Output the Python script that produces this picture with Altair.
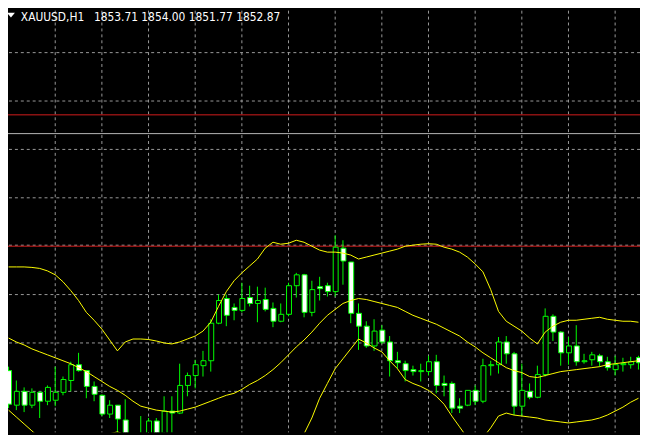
import altair as alt
import pandas as pd

SYMBOL = "XAUUSD,H1"

# hourly candles, oldest first (last one is the bar quoted in the header)
open_ = [1851.60, 1846.00, 1848.24, 1846.00, 1848.08, 1846.64, 1846.80, 1848.08, 1850.00, 1852.56,
         1851.60, 1849.04, 1847.60, 1844.56, 1846.00, 1843.60, 1839.12, 1838.32, 1840.72, 1843.44,
         1841.04, 1845.04, 1844.72, 1849.20, 1850.80, 1852.40, 1853.20, 1859.28, 1863.28, 1861.84,
         1861.36, 1863.44, 1862.48, 1863.12, 1861.68, 1859.60, 1860.72, 1865.36, 1867.12, 1861.04,
         1865.20, 1865.36, 1864.40, 1871.44, 1869.20, 1860.88, 1858.80, 1855.60, 1858.16, 1856.24,
         1853.20, 1852.72, 1851.76, 1851.44, 1851.44, 1853.04, 1849.52, 1849.52, 1845.84, 1846.00,
         1848.40, 1846.64, 1852.40, 1852.56, 1856.24, 1854.32, 1845.84, 1848.24, 1847.28, 1850.96,
         1860.40, 1857.84, 1854.48, 1855.60, 1853.04, 1853.36, 1854.00, 1853.04, 1851.76, 1852.56,
         1852.56, 1853.71]
high = [1852.24, 1850.00, 1848.88, 1848.72, 1848.24, 1849.20, 1852.24, 1850.64, 1853.04, 1854.48,
        1851.60, 1849.84, 1847.76, 1846.80, 1846.00, 1846.96, 1841.36, 1844.24, 1843.92, 1843.92,
        1847.44, 1847.44, 1852.72, 1851.28, 1853.36, 1854.80, 1859.92, 1863.92, 1863.92, 1862.48,
        1865.84, 1865.36, 1865.20, 1865.04, 1862.64, 1862.48, 1865.84, 1867.44, 1867.28, 1866.16,
        1866.80, 1865.84, 1873.52, 1872.72, 1869.20, 1862.48, 1859.60, 1859.92, 1858.96, 1857.20,
        1854.64, 1853.20, 1852.40, 1852.72, 1854.00, 1854.16, 1850.80, 1849.84, 1847.12, 1848.40,
        1849.20, 1853.52, 1853.20, 1857.04, 1857.20, 1854.64, 1852.72, 1849.52, 1852.40, 1861.68,
        1860.72, 1858.00, 1857.04, 1858.96, 1854.32, 1854.64, 1854.32, 1853.84, 1854.00, 1853.68,
        1853.84, 1854.00]
low = [1845.52, 1845.20, 1844.88, 1845.52, 1843.92, 1846.00, 1845.84, 1847.60, 1848.24, 1851.44,
       1847.12, 1846.64, 1844.24, 1843.92, 1840.72, 1839.12, 1838.32, 1837.52, 1839.92, 1839.92,
       1839.92, 1840.72, 1844.56, 1847.44, 1848.72, 1850.64, 1851.44, 1859.12, 1858.80, 1859.76,
       1861.04, 1862.00, 1859.44, 1861.20, 1858.64, 1859.44, 1860.40, 1863.44, 1860.24, 1860.40,
       1862.96, 1863.60, 1863.60, 1865.52, 1859.28, 1854.96, 1855.28, 1854.80, 1855.92, 1850.64,
       1851.92, 1849.84, 1850.80, 1849.84, 1850.80, 1847.92, 1847.44, 1844.72, 1844.72, 1845.84,
       1846.00, 1846.32, 1850.80, 1851.12, 1852.72, 1844.40, 1844.24, 1846.96, 1847.12, 1850.64,
       1856.40, 1852.40, 1852.56, 1852.40, 1852.72, 1852.40, 1852.24, 1851.60, 1850.80, 1851.44,
       1851.92, 1851.77]
close = [1846.16, 1848.24, 1846.00, 1848.08, 1846.64, 1848.88, 1848.08, 1850.16, 1852.56, 1851.60,
         1849.04, 1847.76, 1844.56, 1846.00, 1843.76, 1839.92, 1840.72, 1841.04, 1843.44, 1840.72,
         1845.04, 1844.72, 1849.20, 1850.80, 1852.56, 1853.20, 1859.28, 1862.96, 1860.56, 1861.36,
         1863.28, 1862.48, 1862.96, 1861.52, 1859.60, 1860.72, 1865.36, 1867.12, 1861.04, 1864.72,
         1864.88, 1864.40, 1871.60, 1869.36, 1860.88, 1858.80, 1855.60, 1858.00, 1856.24, 1853.20,
         1852.88, 1851.60, 1851.44, 1851.60, 1853.04, 1849.20, 1849.20, 1845.52, 1845.52, 1848.40,
         1846.64, 1852.40, 1852.56, 1856.24, 1854.32, 1845.84, 1848.40, 1847.28, 1850.96, 1860.40,
         1857.84, 1854.48, 1855.60, 1853.04, 1853.20, 1854.16, 1853.04, 1852.08, 1852.56, 1852.72,
         1853.04, 1852.87]

# Bollinger bands, one value per candle
upper = [1868.40, 1868.40, 1868.40, 1868.32, 1868.16, 1867.76, 1867.12, 1866.00, 1864.56, 1862.96,
         1861.04, 1859.76, 1858.32, 1856.56, 1854.80, 1856.24, 1856.72, 1856.72, 1856.64, 1856.40,
         1856.08, 1855.92, 1856.24, 1856.72, 1857.20, 1858.00, 1859.44, 1862.00, 1864.40, 1866.16,
         1867.44, 1868.56, 1869.68, 1871.44, 1872.40, 1872.08, 1872.24, 1872.72, 1872.40, 1871.76,
         1871.12, 1870.80, 1870.80, 1870.64, 1870.32, 1869.68, 1870.00, 1870.32, 1870.64, 1870.96,
         1871.28, 1871.76, 1871.92, 1872.08, 1872.16, 1872.08, 1871.60, 1871.28, 1870.80, 1870.00,
         1868.88, 1867.60, 1864.72, 1861.20, 1859.60, 1858.80, 1858.00, 1856.88, 1855.92, 1857.84,
         1858.80, 1859.44, 1859.76, 1859.76, 1859.92, 1860.08, 1860.24, 1859.92, 1859.76, 1859.60,
         1859.60, 1859.44]
middle = [1856.88, 1856.24, 1855.76, 1855.12, 1854.64, 1854.16, 1853.68, 1853.20, 1852.72, 1852.08,
          1851.44, 1850.64, 1849.84, 1849.04, 1848.40, 1847.60, 1846.64, 1845.84, 1845.52, 1845.20,
          1845.04, 1844.88, 1845.04, 1845.36, 1845.68, 1846.16, 1846.64, 1847.12, 1847.60, 1847.92,
          1848.56, 1849.36, 1850.00, 1850.80, 1851.76, 1852.88, 1854.16, 1855.44, 1856.56, 1857.84,
          1859.28, 1860.56, 1861.52, 1862.48, 1862.96, 1863.28, 1863.12, 1862.80, 1862.48, 1862.16,
          1861.84, 1861.20, 1860.56, 1860.08, 1859.60, 1859.12, 1858.48, 1857.84, 1857.20, 1856.24,
          1855.44, 1854.48, 1853.68, 1852.88, 1852.08, 1851.60, 1851.28, 1850.64, 1850.48, 1850.80,
          1851.12, 1851.44, 1851.60, 1851.76, 1851.92, 1852.08, 1852.24, 1852.56, 1852.72, 1852.88,
          1853.04, 1853.20]
lower = [1845.20, 1844.08, 1842.96, 1841.84, 1840.72, 1839.76, 1839.12, 1838.64, 1838.32, 1838.32,
         1838.80, 1839.60, 1840.56, 1841.36, 1841.68, 1841.20, 1840.24, 1839.12, 1837.84, 1836.72,
         1835.92, 1835.28, 1834.96, 1834.80, 1834.80, 1834.96, 1835.28, 1835.60, 1835.92, 1836.24,
         1836.40, 1836.56, 1836.56, 1836.88, 1837.20, 1838.00, 1839.12, 1840.24, 1841.36, 1843.92,
         1847.12, 1849.52, 1851.92, 1853.52, 1855.12, 1856.72, 1856.08, 1855.28, 1854.64, 1853.20,
         1851.92, 1850.16, 1849.52, 1849.04, 1848.40, 1847.44, 1846.16, 1844.24, 1842.48, 1840.72,
         1839.92, 1840.72, 1842.32, 1844.24, 1844.72, 1844.40, 1844.24, 1844.08, 1843.92, 1843.60,
         1843.44, 1843.28, 1843.12, 1843.28, 1843.44, 1843.60, 1843.92, 1844.40, 1845.04, 1845.68,
         1846.48, 1847.12]

grid_prices = [1903.12, 1895.28, 1887.44, 1879.60, 1871.92, 1863.92, 1856.08, 1848.24]
grid_bars = [6, 12, 18, 24, 30, 36, 42, 48, 54, 60, 66, 72, 78]
level_prices = [1893.04, 1890.00, 1871.76]
level_colors = ["#d41c1c", "#b8b8b8", "#d41c1c"]

GREEN = "#00ff00"
YELLOW = "#ffff00"
GRID = "#9a9a9a"
FONT = "DejaVu Sans Condensed, DejaVu Sans"

bars = list(range(len(close)))
candles = pd.DataFrame({"bar": bars, "open": open_, "high": high, "low": low, "close": close})
candles["kind"] = ["bull" if c > o else "bear" for o, c in zip(open_, close)]
bands = pd.DataFrame({"bar": bars, "upper": upper, "middle": middle, "lower": lower}).melt(
    "bar", var_name="band", value_name="price")

xs = alt.Scale(domain=[0.5625, 80.5625], nice=False, zero=False)
ys = alt.Scale(domain=[1841.60, 1909.92], nice=False, zero=False)

hgrid = alt.Chart(pd.DataFrame({"price": grid_prices})).mark_rule(
    color=GRID, strokeWidth=1, strokeDash=[3, 3]).encode(y=alt.Y("price:Q", scale=ys, axis=None))
vgrid = alt.Chart(pd.DataFrame({"bar": grid_bars})).mark_rule(
    color=GRID, strokeWidth=1, strokeDash=[3, 3]).encode(x=alt.X("bar:Q", scale=xs, axis=None))
levels = alt.Chart(pd.DataFrame({"price": level_prices, "col": level_colors})).mark_rule(
    strokeWidth=1).encode(y=alt.Y("price:Q", scale=ys, axis=None),
                          color=alt.Color("col:N", scale=None))

wicks = alt.Chart(candles).mark_rule(color=GREEN, strokeWidth=1, clip=True).encode(
    x=alt.X("bar:Q", scale=xs, axis=None),
    y=alt.Y("low:Q", scale=ys, axis=None), y2="high:Q")
bodies = alt.Chart(candles).mark_bar(size=5, xOffset=0.5, stroke=GREEN, strokeWidth=1,
                                     clip=True).encode(
    x=alt.X("bar:Q", scale=xs, axis=None),
    y=alt.Y("open:Q", scale=ys, axis=None), y2="close:Q",
    fill=alt.Fill("kind:N", scale=alt.Scale(domain=["bull", "bear"], range=["black", "white"]),
                  legend=None))
bb = alt.Chart(bands).mark_line(color=YELLOW, strokeWidth=1, clip=True).encode(
    x=alt.X("bar:Q", scale=xs, axis=None),
    y=alt.Y("price:Q", scale=ys, axis=None), detail="band:N")

quote = " ".join(f"{v:.2f}" for v in (open_[-1], high[-1], low[-1], close[-1]))
arrow = alt.Chart(pd.DataFrame({"a": [0]})).mark_point(
    shape="M-1,-0.6L1,-0.6L0,0.6Z", filled=True, color="white", size=64, opacity=1).encode(
    x=alt.value(3), y=alt.value(4.5))
name = alt.Chart(pd.DataFrame({"t": [SYMBOL]})).mark_text(
    align="left", baseline="alphabetic", font=FONT, fontSize=12, color="white").encode(
    x=alt.value(13), y=alt.value(10.5), text="t:N")
nums = alt.Chart(pd.DataFrame({"t": [quote]})).mark_text(
    align="left", baseline="alphabetic", font=FONT, fontSize=12, color="white").encode(
    x=alt.value(87), y=alt.value(10.5), text="t:N")

chart = alt.layer(hgrid, vgrid, levels, wicks, bodies, bb, arrow, name, nums).properties(
    width=640, height=427, background="black", padding=0,
    autosize=alt.AutoSizeParams(type="none"),
).configure_view(strokeWidth=0)

chart.save("out.html", embed_options={"renderer": "svg", "actions": False})
